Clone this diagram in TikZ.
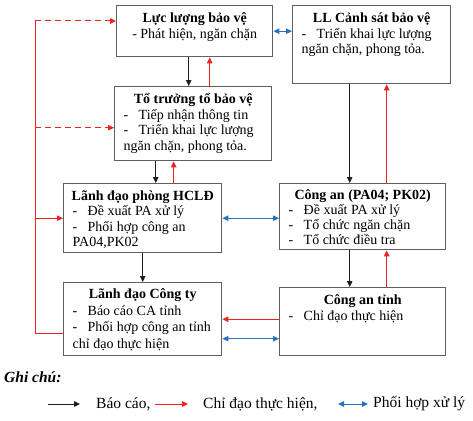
\documentclass[tikz,border=0pt]{standalone}
\usepackage{fontspec}
\setmainfont{Liberation Serif}
\usetikzlibrary{arrows.meta, positioning}
\definecolor{framegray}{RGB}{95,95,95}
\definecolor{reportcolor}{RGB}{30,30,30}
\definecolor{directcolor}{RGB}{235,35,35}
\definecolor{coopcolor}{RGB}{40,115,190}
\newcommand{\itemdash}{\makebox[15pt][l]{-}}
\newcommand{\unittitle}[1]{\makebox[\linewidth][c]{\textbf{#1}}\par}

\begin{document}
\begin{tikzpicture}[
    x=1pt, y=-1pt,
    unit/.style={draw=framegray, line width=1.4pt, anchor=north west, inner xsep=9pt, inner ysep=4pt, font=\fontsize{14}{15.5}\selectfont},
    report/.style={-{Triangle[length=6pt, width=5.5pt]}, line width=1pt, reportcolor},
    direct/.style={-{Triangle[length=6pt, width=5.5pt]}, line width=1pt, directcolor},
    coop/.style={{Triangle[length=6pt, width=5.5pt]}-{Triangle[length=6pt, width=5.5pt]}, line width=1pt, coopcolor},
    legend/.style={anchor=west, inner sep=0pt, font=\fontsize{15.5}{18}\selectfont}
]
    \useasboundingbox (0,0) rectangle (473,420);

    % Nodes - top row
    \node[unit] (prot) at (116,5) {\begin{minipage}[t][43pt][t]{138pt}\vspace*{3pt}\centering
        \unittitle{Lực lượng bảo vệ}- Phát hiện, ngăn chặn\end{minipage}};
    \node[unit] (police) at (292,5) {\begin{minipage}[t][70pt][t]{140pt}\vspace*{3pt}\raggedright
        \unittitle{LL Cảnh sát bảo vệ}
        \itemdash Triển khai lực lượng\\ngăn chặn, phong tỏa.\end{minipage}};
    \node[unit] (leader) at (114,86) {\begin{minipage}[t][66pt][t]{139pt}\vspace*{3pt}\raggedright
        \unittitle{Tổ trưởng tổ bảo vệ}
        \itemdash Tiếp nhận thông tin\\\itemdash Triển khai lực lượng\\ngăn chặn, phong tỏa.\end{minipage}};

    % Nodes - middle row
    \node[unit] (hcld) at (63,183) {\begin{minipage}[t][61pt][t]{140pt}\vspace*{3pt}\raggedright
        \unittitle{Lãnh đạo phòng HCLĐ}
        \itemdash Đề xuất PA xử lý\\\itemdash Phối hợp công an\\PA04,PK02\end{minipage}};
    \node[unit, font=\fontsize{14}{15}\selectfont] (ca) at (279,183) {\begin{minipage}[t][58pt][t]{148pt}\vspace*{2pt}\raggedright
        \unittitle{Công an (PA04; PK02)}
        \itemdash Đề xuất PA xử lý\\\itemdash Tổ chức ngăn chặn\\\itemdash Tổ chức điều tra\end{minipage}};

    % Nodes - bottom row
    \node[unit, font=\fontsize{14}{16.5}\selectfont] (cty) at (63,282) {\begin{minipage}[t][65pt][t]{140pt}\vspace*{2pt}\raggedright
        \unittitle{Lãnh đạo Công ty}
        \itemdash Báo cáo CA tỉnh\\\itemdash Phối hợp công an tỉnh\\chỉ đạo thực hiện\end{minipage}};
    \node[unit] (catinh) at (279,287) {\begin{minipage}[t][60pt][t]{148pt}\vspace*{3pt}\raggedright
        \unittitle{Công an tỉnh}
        \itemdash Chỉ đạo thực hiện\end{minipage}};

    % Arrows - vertical
    \draw[report] ([xshift=-6pt]prot.south) -- ([xshift=-6pt]prot.south |- leader.north);
    \draw[direct] ([xshift=15pt]prot.south |- leader.north) -- ([xshift=15pt]prot.south);
    \draw[report] ([xshift=13pt]hcld.north |- leader.south) -- ([xshift=13pt]hcld.north);
    \draw[direct] ([xshift=31pt]hcld.north) -- ([xshift=31pt]hcld.north |- leader.south);
    \draw[report] (hcld.south) -- (cty.north);
    \draw[report] ([xshift=-22pt]police.south) -- ([xshift=-22pt]police.south |- ca.north);
    \draw[direct] ([xshift=15pt]police.south |- ca.north) -- ([xshift=15pt]police.south);
    \draw[report] ([xshift=-22pt]police.south |- ca.south) -- ([xshift=-22pt]police.south |- catinh.north);
    \draw[direct] ([xshift=15pt]police.south |- catinh.north) -- ([xshift=15pt]police.south |- ca.south);

    % Arrows - horizontal
    \draw[coop] (prot.east) -- (prot.east -| police.west);
    \draw[coop] (hcld.east) -- (hcld.east -| ca.west);
    \draw[direct] (cty.east -| catinh.west) -- (cty.east);
    \draw[coop] ([yshift=-19.5pt]cty.east) -- ([yshift=-19.5pt]cty.east -| catinh.west);

    % Left rail
    \coordinate (rail) at (35,21);
    \draw[directcolor, line width=1pt] ([yshift=-14.5pt]cty.west) -| (rail);
    \draw[direct, dash pattern=on 6pt off 4pt] (rail) -- (rail -| prot.west);
    \draw[direct, dash pattern=on 6pt off 4pt] ([yshift=-4pt]leader.west -| rail) -- ([yshift=-4pt]leader.west);
    \draw[direct] (hcld.west -| rail) -- (hcld.west);

    % Legend
    \node[legend, font=\fontsize{15.5}{18}\selectfont\bfseries\itshape] (note) at (4,377) {Ghi chú:};
    \coordinate (keyReportA) at (48,404);
    \coordinate (keyReportB) at (80,404);
    \coordinate (keyDirectA) at (155,404);
    \coordinate (keyDirectB) at (188,404);
    \coordinate (keyCoopA) at (338,404);
    \coordinate (keyCoopB) at (368,404);
    \draw[report] (keyReportA) -- (keyReportB);
    \draw[direct] (keyDirectA) -- (keyDirectB);
    \draw[coop] (keyCoopA) -- (keyCoopB);
    \node[legend] (lgReport) at (96,404) {Báo cáo,};
    \node[legend] (lgDirect) at (203,404) {Chỉ đạo thực hiện,};
    \node[legend] (lgCoop) at (373,404) {Phối hợp xử lý};
\end{tikzpicture}
\end{document}
